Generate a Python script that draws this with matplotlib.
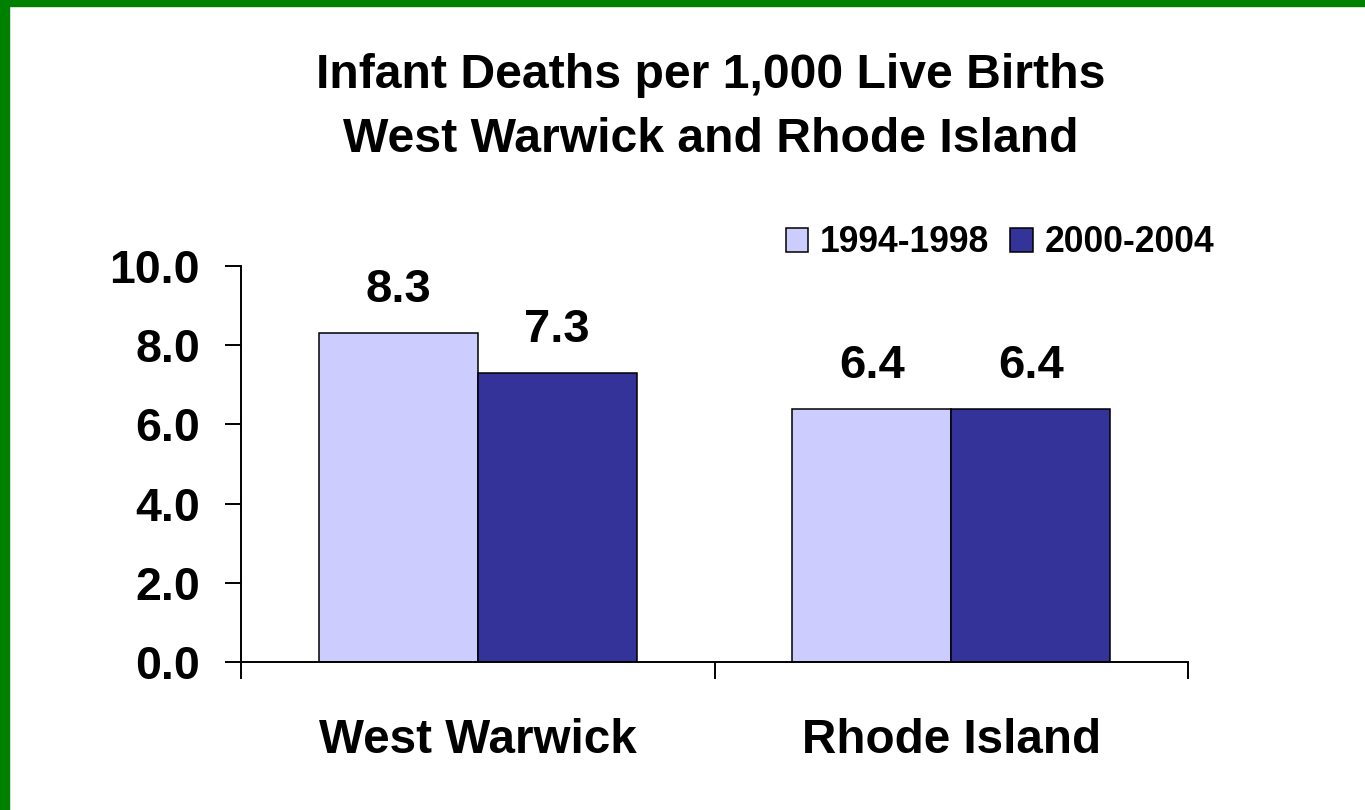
import numpy as np
import matplotlib
matplotlib.use("Agg")
import matplotlib.pyplot as plt
from matplotlib.patches import Rectangle

categories = ["West Warwick", "Rhode Island"]
series_names = ["1994-1998", "2000-2004"]
values_1994 = [8.3, 6.4]
values_2000 = [7.3, 6.4]
colors = ["#CCCCFF", "#333399"]

plt.rcParams['font.family'] = ['Liberation Sans', 'DejaVu Sans']
plt.rcParams['font.weight'] = 'bold'

fig = plt.figure(figsize=(13.65, 8.1), dpi=100)
fig.patch.set_facecolor("white")

# green frame on top and left edge
fig.patches.append(Rectangle((0, 1 - 6 / 810), 1, 6 / 810, transform=fig.transFigure,
                             color="#008000", zorder=0))
fig.patches.append(Rectangle((0, 0), 9 / 1365, 1, transform=fig.transFigure,
                             color="#008000", zorder=0))

ax = fig.add_axes([241 / 1365, 1 - 662 / 810, (1188 - 241) / 1365, (662 - 266) / 810])

x = np.arange(len(categories))
w = 0.336
b1 = ax.bar(x - w / 2, values_1994, w, color=colors[0], edgecolor="black", linewidth=1.1,
            label=series_names[0])
b2 = ax.bar(x + w / 2, values_2000, w, color=colors[1], edgecolor="black", linewidth=1.1,
            label=series_names[1])

for bars in (b1, b2):
    for r in bars:
        ax.annotate("%.1f" % r.get_height(), (r.get_x() + r.get_width() / 2, r.get_height()),
                    xytext=(0, 22.3), textcoords="offset points", ha="center", va="baseline",
                    fontsize=34, fontweight="bold")

ax.set_xlim(-0.5, 1.5)
ax.set_ylim(0, 10)
ax.set_yticks(np.arange(0, 10.1, 2))
ax.set_yticklabels(["%.1f" % v for v in np.arange(0, 10.1, 2)])
ax.tick_params(axis="y", length=11.5, width=1.4, pad=18, labelsize=33.5, direction="out")

ax.set_xticks([-0.5, 0.5, 1.5])
ax.set_xticklabels(["", "", ""])
ax.set_xticks(x, minor=True)
ax.set_xticklabels(categories, minor=True)
ax.tick_params(axis="x", which="major", length=12, width=1.4, direction="out")
ax.tick_params(axis="x", which="minor", length=0, pad=40, labelsize=34.3)

for s in ["top", "right"]:
    ax.spines[s].set_visible(False)
for s in ["left", "bottom"]:
    ax.spines[s].set_linewidth(1.4)

fig.text(0.521, 1 - 88 / 810, "Infant Deaths per 1,000 Live Births", ha="center",
         va="baseline", fontsize=34.7, fontweight="bold")
fig.text(0.521, 1 - 152 / 810, "West Warwick and Rhode Island", ha="center",
         va="baseline", fontsize=34.7, fontweight="bold")

fig.legend(handles=[b1, b2], loc="center", bbox_to_anchor=(0.7326, 0.70), ncol=2,
           frameon=False, fontsize=25.6, handlelength=0.62, handleheight=0.62,
           handletextpad=0.33, columnspacing=0.6, borderpad=0)

fig.savefig("out.png", dpi=100)
